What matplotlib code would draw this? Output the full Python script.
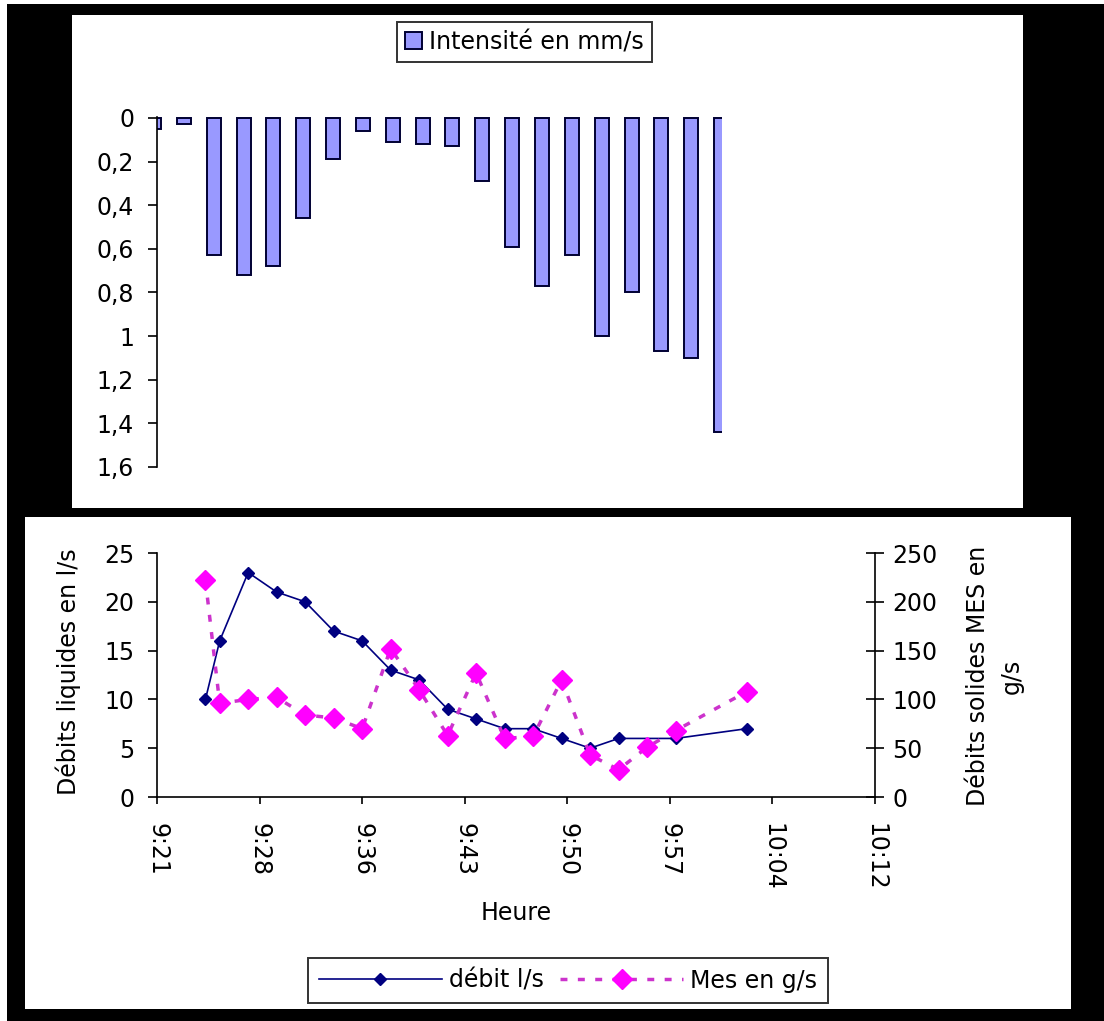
import numpy as np
import matplotlib
matplotlib.use("Agg")
import matplotlib.pyplot as plt
from matplotlib.patches import Rectangle

plt.rcParams['font.family'] = ['DejaVu Sans']

# rain intensity (mm/s), one bar per interval
intensite = [0.05, 0.03, 0.63, 0.72, 0.68, 0.46, 0.19, 0.06, 0.11, 0.12,
             0.13, 0.29, 0.59, 0.77, 0.63, 1.00, 0.80, 1.07, 1.10, 1.44]
intensite_ticks = [0, 0.2, 0.4, 0.6, 0.8, 1, 1.2, 1.4, 1.6]

# liquid flow (l/s)
heures_debit = ["9:25", "9:26", "9:28", "9:30", "9:32", "9:34", "9:36", "9:38", "9:40",
                "9:42", "9:44", "9:46", "9:48", "9:50", "9:52", "9:54", "9:58", "10:03"]
debit = [10, 16, 23, 21, 20, 17, 16, 13, 12, 9, 8, 7, 7, 6, 5, 6, 6, 7]

# suspended solids flow (g/s)
heures_mes = ["9:25", "9:26", "9:28", "9:30", "9:32", "9:34", "9:36", "9:38", "9:40", "9:42",
              "9:44", "9:46", "9:48", "9:50", "9:52", "9:54", "9:56", "9:58", "10:03"]
mes = [222, 96, 100, 102, 84, 81, 70, 152, 110, 63, 127, 60, 62, 120, 43, 28, 51, 68, 108]

heure_labels = ["9:21", "9:28", "9:36", "9:43", "9:50", "9:57", "10:04", "10:12"]
debit_ticks = [0, 5, 10, 15, 20, 25]
mes_ticks = [0, 50, 100, 150, 200, 250]

W, H = 1104, 1021
FS = 17


def to_min(h):
    hh, mm = h.split(":")
    return int(hh) * 60 + int(mm)


def rect(x0, y0, x1, y1):
    # pixel box (top-left origin) -> figure fraction [l, b, w, h]
    return [x0 / W, 1 - y1 / H, (x1 - x0) / W, (y1 - y0) / H]


fig = plt.figure(figsize=(W / 100, H / 100), dpi=100, facecolor="black")

# white panels behind both charts + thin white strips on the image border
for box in [(72, 15, 1023, 508), (25, 517, 1071, 1009), (0, 0, 7, H), (0, 0, W, 4)]:
    l, b, w, h = rect(*box)
    fig.patches.append(Rectangle((l, b), w, h, transform=fig.transFigure,
                                 facecolor="white", edgecolor="none", zorder=-5))

# ---- top chart: inverted bars ----
ax1 = fig.add_axes(rect(157, 117, 722, 467))
ax1.patch.set_alpha(0)
bars = ax1.bar(np.arange(len(intensite)), intensite, width=0.47, color="#9999FF",
               edgecolor="#000033", linewidth=1.4, label="Intensité en mm/s")
ax1.set_xlim(0.1, len(intensite) - 0.97)
ax1.set_ylim(1.6, -0.004)
ax1.set_yticks(intensite_ticks)
ax1.set_yticklabels([f"{v:g}".replace(".", ",") for v in intensite_ticks])
ax1.set_xticks([])
for s in ["top", "right", "bottom"]:
    ax1.spines[s].set_visible(False)
ax1.spines["left"].set_linewidth(1.2)
ax1.tick_params(axis="y", direction="out", length=6.5, width=1.2, pad=10, labelsize=FS)

leg1 = fig.legend(handles=[bars], labels=["Intensité en mm/s"], loc="center",
                  bbox_to_anchor=(524.5 / W, 1 - 42 / H), frameon=True, fancybox=False,
                  edgecolor="black", fontsize=FS, handlelength=0.7, handleheight=0.7,
                  handletextpad=0.3, borderpad=0.35, borderaxespad=0)
leg1.get_frame().set_linewidth(1.4)

# ---- bottom chart: flow and suspended solids ----
ax2 = fig.add_axes(rect(157, 553, 875, 797))
ax2.patch.set_alpha(0)
ax3 = ax2.twinx()

x_debit = [to_min(h) for h in heures_debit]
x_mes = [to_min(h) for h in heures_mes]

l1, = ax2.plot(x_debit, debit, color="#000080", lw=1.2, marker="D", ms=6.5,
               mfc="#000080", mec="#000080", label="débit l/s")
l2, = ax3.plot(x_mes, mes, color="#CC33CC", lw=2.5, ls=(0, (2, 3)), marker="D", ms=10.5,
               mfc="#FF00FF", mec="#FF00FF", label="Mes en g/s")

tick_pos = 561.6 + 7.2 * np.arange(len(heure_labels))
ax2.set_xlim(tick_pos[0], tick_pos[-1])
ax2.set_xticks(tick_pos)
ax2.set_xticklabels(heure_labels, rotation=-90)
ax2.set_ylim(0, 25)
ax2.set_yticks(debit_ticks)
ax3.set_ylim(0, 250)
ax3.set_yticks(mes_ticks)

for s in ["top", "right"]:
    ax2.spines[s].set_visible(False)
for s in ["top", "left", "bottom"]:
    ax3.spines[s].set_visible(False)
ax2.spines["left"].set_linewidth(1.2)
ax2.spines["bottom"].set_linewidth(1.2)
ax3.spines["right"].set_linewidth(1.2)

ax2.tick_params(axis="y", direction="out", length=6.5, width=1.2, pad=10, labelsize=FS)
ax2.tick_params(axis="x", direction="out", length=5, width=1.2, pad=14, labelsize=FS)
ax3.tick_params(axis="y", direction="inout", length=13, width=1.2, pad=6, labelsize=FS)

ax2.set_xlabel("Heure", fontsize=FS)
ax2.xaxis.set_label_coords(0.5, (797 - 913) / 244)
ax2.xaxis.label.set_va("center")
ax2.set_ylabel("Débits liquides en l/s", fontsize=FS)
ax2.yaxis.set_label_coords((68 - 157) / 718, (797 - 672) / 244)
ax2.yaxis.label.set_va("center")
ax3.set_ylabel("Débits solides MES en\ng/s", fontsize=FS, rotation=90, linespacing=1.5)
ax3.yaxis.set_label_coords((995 - 157) / 718, (797 - 676) / 244)
ax3.yaxis.label.set_va("center")
ax3.yaxis.label.set_ha("center")

leg2 = fig.legend(handles=[l1, l2], labels=["débit l/s", "Mes en g/s"], loc="center",
                  bbox_to_anchor=(568 / W, 1 - 980.5 / H), ncol=2, numpoints=1,
                  frameon=True, fancybox=False, edgecolor="black", fontsize=FS,
                  handlelength=5.2, handletextpad=0.3, columnspacing=0.7,
                  borderpad=0.45, borderaxespad=0)
leg2.get_frame().set_linewidth(1.4)

fig.savefig("out.png", dpi=100, facecolor="black")
